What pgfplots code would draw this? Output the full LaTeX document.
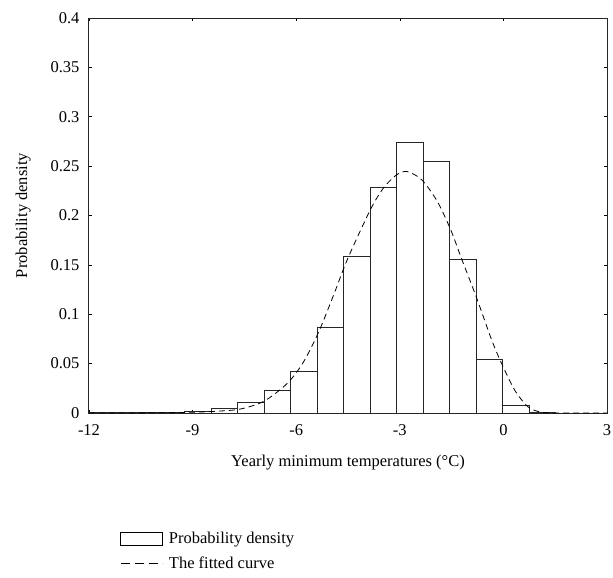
\documentclass[border=0pt]{standalone}
\usepackage{pgfplots}
\pgfplotsset{compat=1.18}
\usepackage{fontspec}
\setmainfont{Liberation Serif}
\begin{document}
\begin{tikzpicture}[x=1pt,y=1pt]
\useasboundingbox (-89,-165) rectangle (524,413);
\begin{axis}[
  at={(0,0)}, anchor=south west,
  scale only axis, width=518pt, height=395pt,
  font=\fontsize{16.5}{19}\selectfont,
  xmin=-12, xmax=3, ymin=0, ymax=0.4,
  xtick={-12,-9,-6,-3,0,3},
  ytick={0,0.05,0.1,0.15,0.2,0.25,0.3,0.35,0.4},
  yticklabel style={/pgf/number format/fixed, xshift=-6pt},
  xticklabel style={yshift=-8pt},
  /pgf/number format/assume math mode=true,
  tick align=inside, major tick length=3pt,
  tick style={black, line width=0.6pt},
  axis line style={line width=1pt, black!85},
  xlabel={Yearly minimum temperatures (°C)},
  ylabel={Probability density},
  xlabel style={yshift=-13pt},
  ylabel style={yshift=13pt},
  legend style={draw=none, fill=none, at={(0.054,-0.292)}, anchor=north west,
    row sep=7pt, cells={anchor=west}, font=\fontsize{16.5}{19}\selectfont},
  legend cell align=left,
]
\addplot[ybar interval, draw=black!85, fill=white, line width=0.8pt,
  legend image code/.code={\draw[black, fill=white, line width=0.8pt] (0pt,-6.5pt) rectangle (42pt,6.5pt); \path (46pt,0pt);}]
coordinates {
(-12.0,0.0005) (-11.54,0.0005) (-10.7725,0.0005) (-10.005,0.0008)
(-9.2375,0.002) (-8.47,0.0045) (-7.7025,0.011) (-6.935,0.023)
(-6.1675,0.042) (-5.40,0.087) (-4.6325,0.159) (-3.865,0.228)
(-3.0975,0.274) (-2.33,0.255) (-1.5625,0.156) (-0.795,0.054)
(-0.0275,0.008) (0.74,0.001) (1.5075,0.001)
};
\addlegendentry{Probability density}
\addplot[black, line width=0.8pt, dash pattern=on 6pt off 4pt, smooth,
  legend image code/.code={\draw[black, line width=0.8pt, dash pattern=on 9pt off 5pt] (0pt,0pt) -- (42pt,0pt); \path (46pt,0pt);}]
coordinates {
(-12,0) (-10,0.0002) (-9,0.0008) (-8.3,0.0018) (-7.62,0.004) (-6.93,0.012) (-6.26,0.030)
(-5.8,0.051) (-5.35,0.082) (-4.90,0.121) (-4.5,0.157) (-3.85,0.206)
(-3.47,0.228) (-3.1,0.241) (-2.79,0.2445) (-2.36,0.236) (-1.91,0.214)
(-1.52,0.185) (-1.22,0.157) (-0.78,0.117) (-0.34,0.074) (-0.05,0.050)
(0.33,0.023) (0.72,0.006) (1.1,0.0008) (1.5,0) (3,0)
};
\addlegendentry{The fitted curve}
\end{axis}
\end{tikzpicture}
\end{document}
